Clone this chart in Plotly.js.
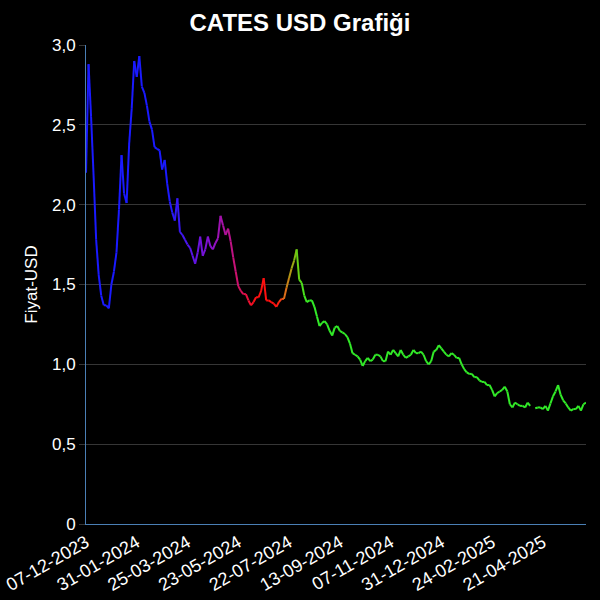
<!DOCTYPE html>
<html>
<head>
<meta charset="utf-8">
<script src="https://cdn.plot.ly/plotly-3.0.1.min.js"></script>
<style>
  html, body { margin: 0; padding: 0; background: #000; }
  #chart { width: 600px; height: 600px; }
</style>
</head>
<body>
<div id="chart"></div>
<script>
// ── Data (one sample every ~2 trading days) ──

const prices = [
  2.20, 2.88, 2.55, 2.18, 1.78, 1.56, 1.43, 1.37, 1.37, 1.35,
  1.50, 1.58, 1.70, 1.97, 2.31, 2.07, 2.01, 2.38, 2.60, 2.90,
  2.80, 2.93, 2.74, 2.70, 2.62, 2.52, 2.47, 2.36, 2.35, 2.34,
  2.22, 2.28, 2.13, 2.02, 1.95, 1.90, 2.04, 1.83, 1.81, 1.78,
  1.75, 1.73, 1.68, 1.63, 1.70, 1.80, 1.68, 1.72, 1.80, 1.74,
  1.72, 1.76, 1.79, 1.93, 1.87, 1.81, 1.85, 1.77, 1.67, 1.58,
  1.49, 1.46, 1.44, 1.44, 1.40, 1.37, 1.39, 1.42, 1.42, 1.46,
  1.54, 1.40, 1.40, 1.39, 1.38, 1.36, 1.39, 1.41, 1.41, 1.48,
  1.54, 1.60, 1.65, 1.72, 1.53, 1.51, 1.43, 1.39, 1.40, 1.40,
  1.36, 1.30, 1.24, 1.26, 1.27, 1.25, 1.21, 1.18, 1.23, 1.24,
  1.21, 1.20, 1.19, 1.17, 1.13, 1.07, 1.06, 1.05, 1.03, 0.99,
  1.02, 1.04, 1.02, 1.03, 1.06, 1.06, 1.05, 1.02, 1.02, 1.08,
  1.06, 1.09, 1.07, 1.05, 1.09, 1.06, 1.04, 1.05, 1.06, 1.09,
  1.07, 1.07, 1.08, 1.06, 1.02, 1.00, 1.02, 1.08, 1.09, 1.12,
  1.10, 1.08, 1.06, 1.05, 1.07, 1.06, 1.04, 1.04, 1.00, 0.97,
  0.95, 0.94, 0.94, 0.92, 0.92, 0.90, 0.89, 0.89, 0.87, 0.87,
  0.84, 0.80, 0.82, 0.83, 0.84, 0.86, 0.83, 0.75, 0.73, 0.76,
  0.75, 0.74, 0.74, 0.73, 0.76, 0.74, null, 0.725, 0.73, 0.73,
  0.72, 0.74, 0.71, 0.755, 0.80, 0.83, 0.87, 0.81, 0.775, 0.755,
  0.73, 0.71, 0.72, 0.72, 0.74, 0.71, 0.75, 0.76,
];

const tickIdx = [0, 20, 40, 60, 80, 100, 120, 140, 160, 180];
const tickLabels = [
  '07-12-2023', '31-01-2024', '25-03-2024', '23-05-2024', '22-07-2024',
  '13-09-2024', '07-11-2024', '31-12-2024', '24-02-2025', '21-04-2025',
];

const yTickVals = [0, 0.5, 1, 1.5, 2, 2.5, 3];
const yTickText = ['0', '0,5', '1,0', '1,5', '2,0', '2,5', '3,0'];

// ── Style ────────────────────────────────────────────────────────

const FONT = 'Liberation Sans, Arial, sans-serif';

// colour along the series: blue -> purple -> red -> orange -> green
const COLOR_STOPS = [
  [0, '#1a1aff'], [32, '#1a1aff'], [42, '#5a14e6'], [50, '#8c12c8'],
  [56, '#b41292'], [62, '#dc1050'], [67, '#ff1010'], [75, '#ff1010'],
  [78, '#e6641a'], [81, '#a8a014'], [84, '#5ada14'], [88, '#32ea28'],
  [197, '#32ea28'],
];

function hexToRgb(h) {
  return [1, 3, 5].map(i => parseInt(h.slice(i, i + 2), 16));
}

function colorAt(t) {
  for (let k = 0; k < COLOR_STOPS.length - 1; k++) {
    const [a, ca] = COLOR_STOPS[k];
    const [b, cb] = COLOR_STOPS[k + 1];
    if (t >= a && t <= b) {
      const f = b === a ? 0 : (t - a) / (b - a);
      const A = hexToRgb(ca), B = hexToRgb(cb);
      const c = A.map((v, j) => Math.round(v + (B[j] - v) * f));
      return `rgb(${c[0]},${c[1]},${c[2]})`;
    }
  }
  return COLOR_STOPS[COLOR_STOPS.length - 1][1];
}

// one short trace per segment so the line can change colour
const traces = [];
for (let i = 0; i < prices.length - 1; i++) {
  if (prices[i] == null || prices[i + 1] == null) continue;
  traces.push({
    x: [i, i + 1],
    y: [prices[i], prices[i + 1]],
    type: 'scatter', mode: 'lines',
    line: { color: colorAt(i + 0.5), width: 2 },
    showlegend: false,
    hoverinfo: 'skip',
  });
}

const layout = {
  width: 600,
  height: 600,
  paper_bgcolor: '#000',
  plot_bgcolor: '#000',
  font: { family: FONT, color: '#fff', size: 17 },
  title: {
    text: '<b>CATES USD Grafiği</b>',
    font: { family: FONT, size: 24, color: '#fff' },
    x: 0.5, xanchor: 'center',
    y: 0.962, yanchor: 'middle',
  },
  margin: { l: 86, r: 14, t: 45, b: 76 },
  xaxis: {
    range: [0, prices.length - 1],
    tickvals: tickIdx,
    ticktext: tickLabels,
    tickangle: -30,
    tickfont: { size: 18, color: '#fff' },
    showgrid: false,
    zeroline: false,
    showline: true,
    linecolor: '#4a7fb5',
    linewidth: 1,
    ticks: '',
  },
  yaxis: {
    range: [0, 3],
    tickvals: yTickVals,
    ticktext: yTickText,
    tickfont: { size: 17, color: '#fff' },
    showgrid: true,
    gridcolor: '#363636',
    gridwidth: 1,
    zeroline: false,
    showline: true,
    linecolor: '#4a7fb5',
    linewidth: 1,
    ticks: 'outside',
    ticklen: 6,
    tickcolor: '#363636',
    title: { text: 'Fiyat-USD', font: { size: 17, color: '#fff' }, standoff: 10 },
  },
  showlegend: false,
};

Plotly.newPlot('chart', traces, layout, { displayModeBar: false, staticPlot: true });
</script>
</body>
</html>
